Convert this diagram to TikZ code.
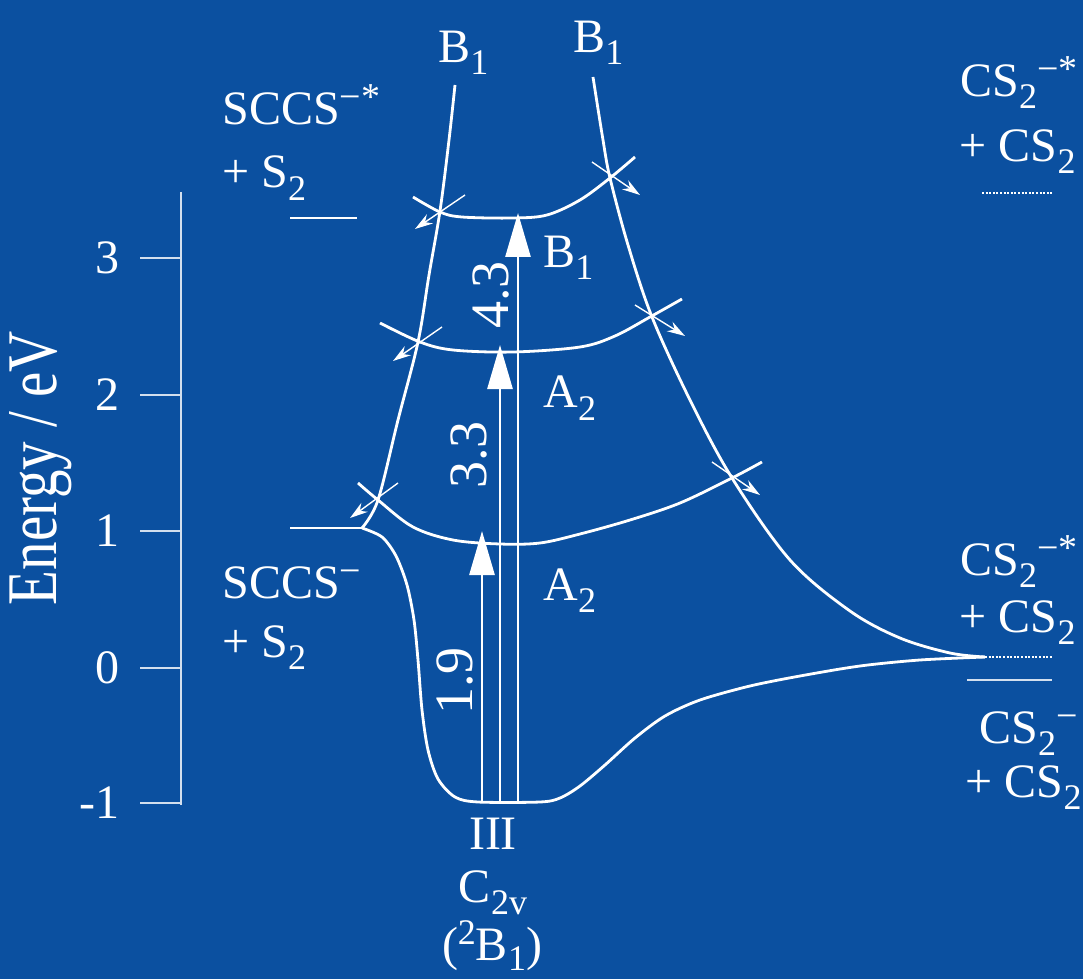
\documentclass[tikz,border=0pt]{standalone}
\usepackage{fontspec}
\setmainfont{Liberation Serif}
\usetikzlibrary{arrows.meta}
\definecolor{bg}{RGB}{11,80,160}
\newcommand\sbs[1]{\raisebox{-6pt}{\fontsize{18}{18}\selectfont #1}}
\newcommand\sps[1]{\raisebox{7.5pt}{\fontsize{19}{19}\selectfont #1}}
\newcommand\presup[1]{\raisebox{8pt}{\fontsize{18}{18}\selectfont #1}}
\newcommand\sbsb[1]{\raisebox{-5pt}{\fontsize{18}{18}\selectfont #1}}
\begin{document}
\begin{tikzpicture}[x=0.5pt,y=-0.5pt,
  curve/.style={white,line width=1.4pt,line join=round},
  thinarrow/.style={white,line width=0.7pt,-{Stealth[length=9pt,width=5.5pt]}},
  bigarrow/.style={white,line width=1.4pt,-{Triangle[length=22pt,width=12.5pt]}},
  lbl/.style={white,font=\fontsize{24}{30}\selectfont,inner sep=0pt},
  rotlbl/.style={white,font=\fontsize{27}{30}\selectfont,inner sep=0pt,rotate=90,anchor=base},
  axisline/.style={white!82!bg,line width=1pt},
  lvl/.style={white,line width=1.4pt},
  dots/.style={white,line width=1.3pt,dash pattern=on 1pt off 0.8pt}]
\fill[bg] (0,0) rectangle (1083,979);
\useasboundingbox (0,0) rectangle (1083,979);

% axis
\draw[axisline] (181,192) -- (181,805);
\foreach \yy/\t in {258/3,395/2,531/1,668/0,803/-1}{
  \draw[axisline] (140,\yy) -- (181,\yy);
  \node[lbl,anchor=east] at (120,\yy) {\t};
}
\node[white,font=\fontsize{28.5}{30}\selectfont,inner sep=0pt,rotate=90,anchor=base] (elabel) at (56,468) {\scalebox{1}[1.25]{Energy / eV}};

% level lines
\draw[lvl] (290,218) -- (357,218);
\draw[lvl] (290,528) -- (362,528);
\draw[dots] (982,193) -- (1052,193);
\draw[dots] (985,657) -- (1052,657);
\draw[axisline] (967,680) -- (1052,680);

% left B1 curve
\draw[curve] plot[smooth,tension=0.55] coordinates {(455,85) (449,140) (440,211) (429,275) (418,342) (398,420) (378,500) (362,528)};
% right B1 curve
\draw[curve] plot[smooth,tension=0.55] coordinates {(593,77) (603,140) (610,178) (628,245) (652,317) (690,400) (732,478) (790,560) (850,611) (900,638) (950,653) (985,657)};
% lower curve
\draw[curve] plot[smooth,tension=0.5] coordinates {(362,528) (382,537) (396,556) (407,585) (414,620) (418,660) (422,710) (428,750) (438,779) (455,797) (478,802) (540,802) (560,798) (580,786) (605,765) (635,738) (665,716) (700,700) (750,686) (800,676) (860,666) (920,660) (985,657)};

% level curves
\draw[curve] plot[smooth,tension=0.55] coordinates {(413,197) (440,212) (462,217) (513,218) (547,215) (580,200) (610,178) (635,157)};
\draw[curve] plot[smooth,tension=0.55] coordinates {(380,323) (420,342) (453,350) (513,352) (580,347) (615,336) (650,317) (682,299)};
\draw[curve] plot[smooth,tension=0.55] coordinates {(358,483) (378,500) (413,527) (453,540) (500,544) (540,543) (580,534) (630,520) (680,503) (732,478) (762,462)};

% small arrows at crossings
\coordinate (s1) at (465,195); \coordinate (e1) at (415,229);
\coordinate (s2) at (442,327); \coordinate (e2) at (393,361);
\coordinate (s3) at (398,483); \coordinate (e3) at (350,518);
\coordinate (s4) at (592,162); \coordinate (e4) at (640,195);
\coordinate (s5) at (635,305); \coordinate (e5) at (685,336);
\coordinate (s6) at (712,462); \coordinate (e6) at (760,495);
\foreach \i in {1,...,6}{\draw[thinarrow] (s\i) -- (e\i);}

% vertical excitation arrows
\coordinate (b1) at (482,802); \coordinate (t1) at (482,531);
\coordinate (b2) at (500,802); \coordinate (t2) at (500,345);
\coordinate (b3) at (518,802); \coordinate (t3) at (518,213);
\draw[bigarrow] (b1) -- (t1);
\draw[bigarrow] (b2) -- (t2);
\draw[bigarrow] (b3) -- (t3);
\node[rotlbl] (n19) at (472,681) {1.9};
\node[rotlbl] (n33) at (486,455) {3.3};
\node[rotlbl] (n43) at (508,295) {4.3};

% state labels
\node[lbl,anchor=base west] (bl) at (438,63) {B\sbs{1}};
\node[lbl,anchor=base west] (br) at (573,53) {B\sbs{1}};
\node[lbl,anchor=base west] (bm) at (543,267) {B\sbs{1}};
\node[lbl,anchor=base west] (au) at (543,408) {A\sbs{2}};
\node[lbl,anchor=base west] (al) at (543,600) {A\sbs{2}};

% asymptote labels
\node[lbl,anchor=base west] (sa1) at (222,125) {SCCS\sps{−*}};
\node[lbl,anchor=base west] (sa2) at (222,188) {+ S\sbs{2}};
\node[lbl,anchor=base west] (sb1) at (222,598) {SCCS\sps{−}};
\node[lbl,anchor=base west] (sb2) at (222,657) {+ S\sbs{2}};

\node[lbl,anchor=base east] (ca1) at (1078,97) {CS\sbs{2}\sps{−*}};
\node[lbl,anchor=base east] (ca2) at (1076,162) {+ CS\sbs{2}};
\node[lbl,anchor=base east] (cb1) at (1078,575) {CS\sbs{2}\sps{−*}};
\node[lbl,anchor=base east] (cb2) at (1076,632) {+ CS\sbs{2}};
\node[lbl,anchor=base east] (cc1) at (1078,743) {CS\sbs{2}\sps{−}};
\node[lbl,anchor=base east] (cc2) at (1082,797) {+ CS\sbs{2}};

% bottom labels
\node[lbl,anchor=base] (iii) at (493,849) {III};
\node[lbl,anchor=base] (c2v) at (493,902) {C\sbs{2v}};
\node[lbl,anchor=base] (b1s) at (492,960) {(\presup{2}B\sbsb{1})};
\end{tikzpicture}
\end{document}
